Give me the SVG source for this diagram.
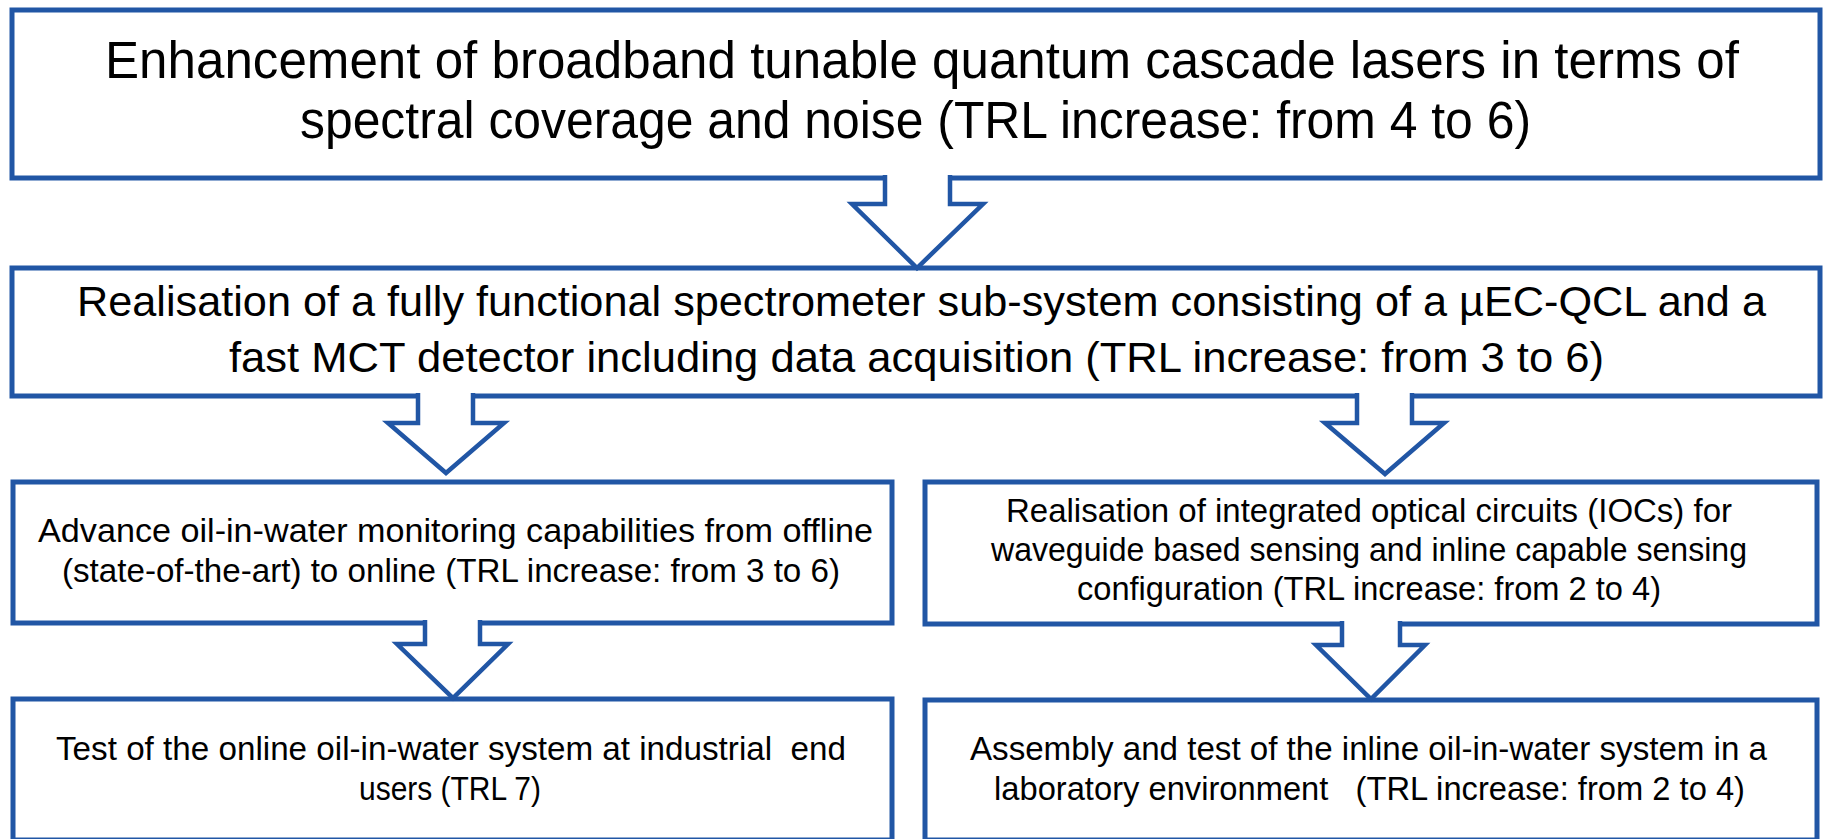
<svg xmlns="http://www.w3.org/2000/svg" width="1825" height="839" viewBox="0 0 1825 839">
<style>
.box{fill:#fff;stroke:#2156A5;stroke-width:5}
.arr{fill:#fff;stroke:#2156A5;stroke-width:4.5;stroke-linejoin:miter}
text{font-family:"Liberation Sans",Arial,sans-serif;fill:#000;text-anchor:middle;white-space:pre}
.t1{font-size:51px}
.t2{font-size:43px}
.t3{font-size:33px}
</style>
<rect width="1825" height="839" fill="#fff"/>
<g id="n1">
<rect class="box" x="12" y="10" width="1808" height="168"/>
<text class="t1" x="922" y="78" textLength="1634" lengthAdjust="spacingAndGlyphs">Enhancement of broadband tunable quantum cascade lasers in terms of</text>
<text class="t1" x="915.5" y="138" textLength="1231" lengthAdjust="spacingAndGlyphs">spectral coverage and noise (TRL increase: from 4 to 6)</text>
</g>
<g id="n2">
<rect class="box" x="12" y="268" width="1808" height="128"/>
<text class="t2" x="921.5" y="316" textLength="1689" lengthAdjust="spacingAndGlyphs">Realisation of a fully functional spectrometer sub-system consisting of a µEC-QCL and a</text>
<text class="t2" x="916.5" y="372" textLength="1375" lengthAdjust="spacingAndGlyphs">fast MCT detector including data acquisition (TRL increase: from 3 to 6)</text>
</g>
<g id="n3">
<rect class="box" x="13" y="482" width="879" height="141"/>
<text class="t3" x="455.5" y="542" textLength="835" lengthAdjust="spacingAndGlyphs">Advance oil-in-water monitoring capabilities from offline</text>
<text class="t3" x="451" y="582" textLength="778" lengthAdjust="spacingAndGlyphs">(state-of-the-art) to online (TRL increase: from 3 to 6)</text>
</g>
<g id="n4">
<rect class="box" x="925" y="482" width="892" height="142"/>
<text class="t3" x="1369" y="522" textLength="726" lengthAdjust="spacingAndGlyphs">Realisation of integrated optical circuits (IOCs) for</text>
<text class="t3" x="1369" y="561" textLength="756" lengthAdjust="spacingAndGlyphs">waveguide based sensing and inline capable sensing</text>
<text class="t3" x="1369" y="600" textLength="584" lengthAdjust="spacingAndGlyphs">configuration (TRL increase: from 2 to 4)</text>
</g>
<g id="n5">
<rect class="box" x="13" y="699" width="879" height="141"/>
<text class="t3" x="451" y="760" textLength="790" lengthAdjust="spacingAndGlyphs">Test of the online oil-in-water system at industrial  end</text>
<text class="t3" x="450" y="800" textLength="182" lengthAdjust="spacingAndGlyphs">users (TRL 7)</text>
</g>
<g id="n6">
<rect class="box" x="925" y="700" width="892" height="140"/>
<text class="t3" x="1368.5" y="760" textLength="797" lengthAdjust="spacingAndGlyphs">Assembly and test of the inline oil-in-water system in a</text>
<text class="t3" x="1369.5" y="800" textLength="751" lengthAdjust="spacingAndGlyphs">laboratory environment   (TRL increase: from 2 to 4)</text>
</g>
<g id="connectors">
<path class="arr" d="M885,175 V204 H852 L917,268 L983,204 H950 V175"/>
<path class="arr" d="M418,393 V423 H388 L446,473 L504,423 H473 V393"/>
<path class="arr" d="M1357,393 V423 H1325 L1385,474 L1444,423 H1412 V393"/>
<path class="arr" d="M425,620 V644 H397 L453,698 L508,644 H480 V620"/>
<path class="arr" d="M1342,621 V645 H1316 L1371,699 L1425,645 H1400 V621"/>
</g>
</svg>
